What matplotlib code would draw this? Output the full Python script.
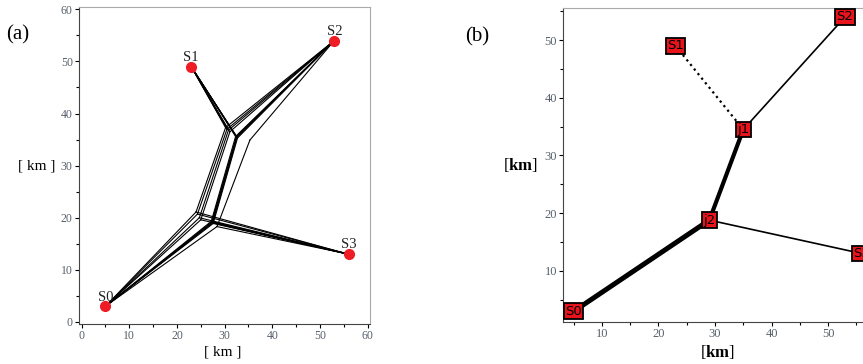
import numpy as np
import matplotlib
matplotlib.use("Agg")
import matplotlib.pyplot as plt
from matplotlib.ticker import MultipleLocator

plt.rcParams["font.family"] = ["Liberation Serif", "DejaVu Serif"]
plt.rcParams["mathtext.fontset"] = "custom"
plt.rcParams["mathtext.rm"] = "Liberation Serif"
plt.rcParams["mathtext.bf"] = "Liberation Serif:bold"

# terminal stations (km)
station_names = ["S0", "S1", "S2", "S3"]
station_x = [5, 23, 53, 56]
station_y = [3, 49, 54, 13]

# (a) candidate networks: junction j1 (joins S1, S2) and j2 (joins S0, S3)
j1_x = [30.2, 30.5, 30.8, 31.1, 32.3, 32.5, 32.6, 32.7, 32.5, 35.3]
j1_y = [37.3, 37.0, 36.8, 36.5, 35.6, 35.5, 35.4, 35.3, 35.6, 34.9]
j2_x = [24.0, 24.3, 24.7, 25.0, 27.2, 27.4, 27.5, 27.6, 27.3, 28.4]
j2_y = [21.1, 20.7, 20.0, 19.6, 19.3, 19.1, 19.0, 18.9, 19.2, 18.3]
# whether S1 is linked straight to that network's j1
s1_linked = [True, True, True, True, True, True, True, True, True, False]

# (b) final network
node_names = ["S0", "S1", "S2", "S3", "j1", "j2"]
node_x = [5, 23, 53, 56, 35, 29]
node_y = [3, 49, 54, 13, 34.5, 18.8]
edges = [("S0", "j2"), ("j2", "j1"), ("j1", "S2"), ("j2", "S3"), ("S1", "j1")]
edge_width = [3.6, 3.0, 1.2, 1.2, 1.6]
edge_style = ["-", "-", "-", "-", ":"]

tick_color = "#56606b"

fig = plt.figure(figsize=(8.63, 3.64), dpi=100)

# ---- panel (a)
ax1 = fig.add_axes([79 / 863, 1 - 324 / 364, 291 / 863, 317 / 364])
for k in range(len(j1_x)):
    j1 = (j1_x[k], j1_y[k])
    j2 = (j2_x[k], j2_y[k])
    segs = [(station_x[0], station_y[0], *j2),
            (station_x[3], station_y[3], *j2),
            (*j2, *j1),
            (station_x[2], station_y[2], *j1)]
    if s1_linked[k]:
        segs.append((station_x[1], station_y[1], *j1))
    for x0, y0, x1, y1 in segs:
        ax1.plot([x0, x1], [y0, y1], color="black", lw=0.8)
ax1.plot(station_x, station_y, "o", color="#ee1c25", ms=7, zorder=5)
for name, x, y in zip(station_names, station_x, station_y):
    ax1.annotate(name, (x, y), xytext=(0, 2), textcoords="offset points",
                 ha="center", va="bottom", fontsize=10.5, color="#222222",
                 zorder=6)
ax1.set_xlim(-0.55, 60.5)
ax1.set_ylim(-0.4, 60.45)
ax1.xaxis.set_major_locator(MultipleLocator(10))
ax1.yaxis.set_major_locator(MultipleLocator(10))
ax1.xaxis.set_minor_locator(MultipleLocator(5))
ax1.yaxis.set_minor_locator(MultipleLocator(5))
ax1.tick_params(which="major", length=3, width=0.8, labelsize=8.5,
                labelcolor=tick_color, pad=1.5)
ax1.tick_params(which="minor", length=2, width=0.8)
for s in ax1.spines.values():
    s.set_linewidth(0.8)
    s.set_color("#444444")
ax1.spines["top"].set_color("#aaaaaa")
ax1.spines["right"].set_color("#aaaaaa")

# ---- panel (b)
ax2 = fig.add_axes([563.3 / 863, 1 - 321.7 / 364, 310 / 863, 313.4 / 364])
pos = {n: (x, y) for n, x, y in zip(node_names, node_x, node_y)}
for (a, b), w, ls in zip(edges, edge_width, edge_style):
    ax2.plot([pos[a][0], pos[b][0]], [pos[a][1], pos[b][1]],
             color="black", lw=w, ls=ls, solid_capstyle="butt", zorder=2)
for name in node_names:
    ax2.text(pos[name][0], pos[name][1], name, ha="center", va="center",
             fontsize=9.5, family="DejaVu Sans", color="black", zorder=5,
             clip_on=True,
             bbox=dict(boxstyle="square,pad=0.1", fc="#e8141c", ec="black",
                       lw=1.3))
ax2.set_xlim(3.16, 58)
ax2.set_ylim(1.2, 55.5)
ax2.xaxis.set_major_locator(MultipleLocator(10))
ax2.yaxis.set_major_locator(MultipleLocator(10))
ax2.xaxis.set_minor_locator(MultipleLocator(5))
ax2.yaxis.set_minor_locator(MultipleLocator(5))
ax2.tick_params(which="major", length=3, width=0.8, labelsize=9,
                labelcolor=tick_color, pad=1.5)
ax2.tick_params(which="minor", length=2, width=0.8)
for s in ax2.spines.values():
    s.set_linewidth(0.8)
    s.set_color("#444444")
ax2.spines["top"].set_color("#aaaaaa")

# ---- labels
fig.text(18 / 863, 1 - 35 / 364, "(a)", fontsize=15, ha="center", va="center")
fig.text(477 / 863, 1 - 37 / 364, "(b)", fontsize=15, ha="center", va="center")
fig.text(37 / 863, 1 - 166 / 364, "[ km ]", fontsize=11, ha="center", va="center")
fig.text(223 / 863, 1 - 352 / 364, "[ km ]", fontsize=11, ha="center", va="center")
fig.text(520 / 863, 1 - 165 / 364, r"[$\mathbf{km}$]", fontsize=12,
         ha="center", va="center")
fig.text(717 / 863, 1 - 352 / 364, r"[$\mathbf{km}$]", fontsize=12,
         ha="center", va="center")

fig.savefig("out.png", dpi=100)
